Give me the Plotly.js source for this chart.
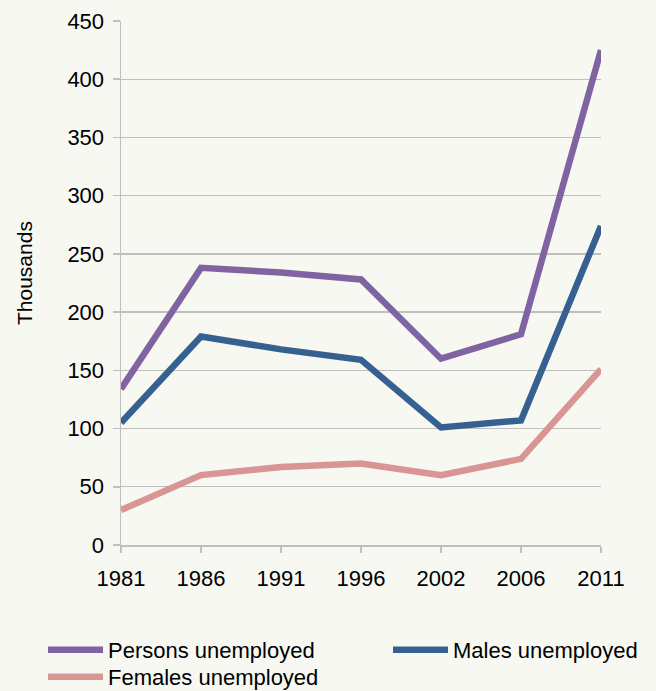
<!DOCTYPE html>
<html>
<head>
<meta charset="utf-8">
<script src="https://cdn.plot.ly/plotly-3.0.1.min.js"></script>
<style>
  html, body { margin: 0; padding: 0; background: #F7F8F1; }
  #chart { width: 656px; height: 691px; }
</style>
</head>
<body>
<div id="chart"></div>
<script>
const years = ['1981', '1986', '1991', '1996', '2002', '2006', '2011'];
const persons = [134, 238, 234, 228, 160, 181, 425];
const males = [105, 179, 168, 159, 101, 107, 274];
const females = [30, 60, 67, 70, 60, 74, 151];
const seriesNames = ['Persons unemployed', 'Males unemployed', 'Females unemployed'];
const yTicks = [0, 50, 100, 150, 200, 250, 300, 350, 400, 450];
const yTitle = 'Thousands';

const colors = ['#8064A2', '#35608F', '#D99594'];
const legendsFor = ['legend', 'legend2', 'legend3'];
const FONT = '"Liberation Sans", Arial, sans-serif';

const W = 656, H = 691;
const M = { l: 121, r: 55, t: 21, b: 146 };
const plotW = W - M.l - M.r, plotH = H - M.t - M.b;
const px2x = px => (px - M.l) / plotW;
const py2y = py => (H - M.b - py) / plotH;

const data = [persons, males, females].map((vals, i) => ({
  type: 'scatter',
  mode: 'lines',
  x: years,
  y: vals,
  name: seriesNames[i],
  legend: legendsFor[i],
  line: { color: colors[i], width: 6.5 },
  hoverinfo: 'skip'
}));

const legendCommon = {
  orientation: 'v',
  xref: 'paper',
  yref: 'paper',
  xanchor: 'left',
  yanchor: 'top',
  bgcolor: 'rgba(0,0,0,0)',
  itemwidth: 55,
  tracegroupgap: 0,
  font: { family: FONT, size: 22, color: '#000' }
};

const layout = {
  width: W,
  height: H,
  paper_bgcolor: '#F7F8F1',
  plot_bgcolor: '#F7F8F1',
  font: { family: FONT, size: 22, color: '#000' },
  margin: Object.assign({ autoexpand: false }, M),
  showlegend: true,
  xaxis: {
    type: 'category',
    range: [0, 6],
    automargin: false,
    showgrid: false,
    showline: true,
    linecolor: '#BFBFBF',
    linewidth: 1.5,
    ticks: 'outside',
    ticklen: 6,
    tickcolor: '#BFBFBF',
    tickwidth: 1.5,
    tickangle: 0,
    ticklabelstandoff: 7,
    tickfont: { family: FONT, size: 22, color: '#000' },
    zeroline: false
  },
  yaxis: {
    range: [0, 450],
    automargin: false,
    tickvals: yTicks,
    ticktext: yTicks.map(String),
    showgrid: true,
    gridcolor: '#BFBFBF',
    gridwidth: 1.3,
    showline: true,
    linecolor: '#BFBFBF',
    linewidth: 1.5,
    ticks: 'outside',
    ticklen: 7,
    tickcolor: '#BFBFBF',
    tickwidth: 1.5,
    ticklabelstandoff: 4,
    zeroline: false,
    tickfont: { family: FONT, size: 22, color: '#000' }
  },
  annotations: [{
    text: yTitle,
    xref: 'paper', yref: 'paper',
    x: px2x(24), y: py2y(273),
    xanchor: 'center', yanchor: 'middle',
    textangle: -90,
    showarrow: false,
    font: { family: FONT, size: 21, color: '#000' }
  }],
  legend: Object.assign({}, legendCommon, { x: px2x(43), y: py2y(629) }),
  legend2: Object.assign({}, legendCommon, { x: px2x(388), y: py2y(629) }),
  legend3: Object.assign({}, legendCommon, { x: px2x(43), y: py2y(656) })
};

Plotly.newPlot('chart', data, layout, { displayModeBar: false, staticPlot: true });
</script>
</body>
</html>
